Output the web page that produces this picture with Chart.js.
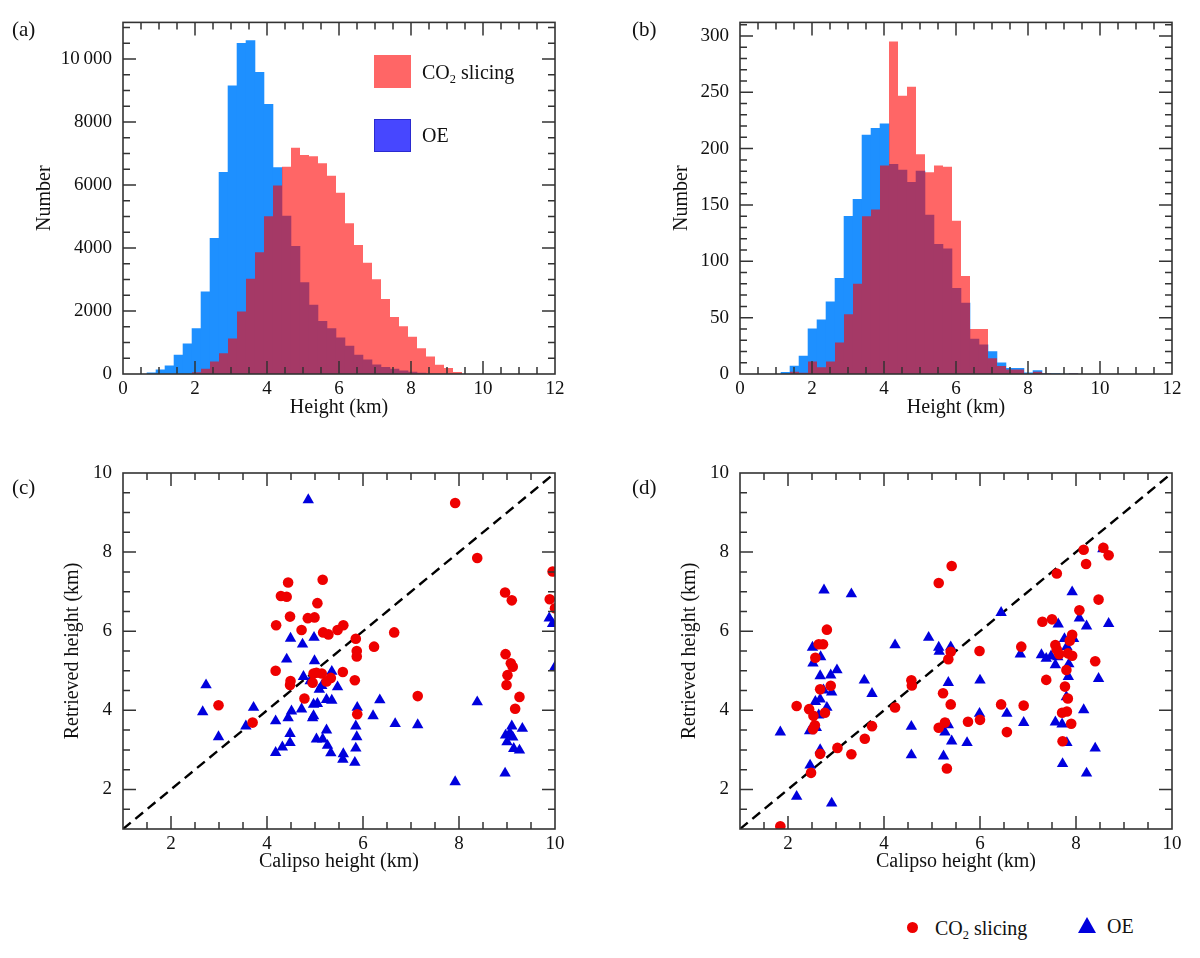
<!DOCTYPE html>
<html>
<head>
<meta charset="utf-8">
<script src="https://cdn.jsdelivr.net/npm/chart.js@4.4.1/dist/chart.umd.min.js"></script>
<style>
  body { margin: 0; background: #fff; }
  #fig { position: relative; width: 1200px; height: 958px; font-family: "Liberation Serif", serif; color: #111; }
  .panel { position: absolute; width: 600px; height: 440px; }
  .tag { position: absolute; font-size: 21px; line-height: 25px; }
  .lab { position: absolute; font-size: 20px; line-height: 24px; white-space: nowrap; }
  .swatch { position: absolute; width: 37px; height: 33px; box-sizing: border-box; }
  sub { font-size: 0.62em; vertical-align: -0.3em; line-height: 0; }
</style>
</head>
<body>
<div id="fig">
  <div class="panel" style="left:0;top:0"><canvas id="histA" width="600" height="440"></canvas></div>
  <div class="panel" style="left:600px;top:0"><canvas id="histB" width="600" height="440"></canvas></div>
  <div class="panel" style="left:0;top:450px"><canvas id="scatC" width="600" height="440"></canvas></div>
  <div class="panel" style="left:600px;top:450px"><canvas id="scatD" width="600" height="440"></canvas></div>

  <div class="tag" style="left:12px;top:17px">(a)</div>
  <div class="tag" style="left:632px;top:17px">(b)</div>
  <div class="tag" style="left:12px;top:475px">(c)</div>
  <div class="tag" style="left:632px;top:475px">(d)</div>

  <!-- legend of panel (a) -->
  <div class="swatch" style="left:374px;top:55px;background:rgba(255,0,0,0.6)"></div>
  <div class="lab" style="left:422px;top:60px">CO<sub>2</sub> slicing</div>
  <div class="swatch" style="left:374px;top:119px;background:rgba(0,0,255,0.72);border:1px solid #2a2ad0"></div>
  <div class="lab" style="left:422px;top:123px">OE</div>

  <!-- legend at the bottom -->
  <div style="position:absolute;left:907px;top:922px;width:11px;height:11px;border-radius:50%;background:#ee0000"></div>
  <div class="lab" style="left:935px;top:916px">CO<sub>2</sub> slicing</div>
  <div style="position:absolute;left:1078px;top:917px;width:18px;height:16px;background:#0000dd;clip-path:polygon(50% 0,100% 100%,0 100%)"></div>
  <div class="lab" style="left:1107px;top:914px">OE</div>
</div>
<script>
// (a) histogram, bin centres in km (bin width 0.25 km)
const binsA = [0.7917, 1.0417, 1.2917, 1.5417, 1.7917, 2.0417, 2.2917, 2.5417, 2.7917, 3.0417,
  3.2917, 3.5417, 3.7917, 4.0417, 4.2917, 4.5417, 4.7917, 5.0417, 5.2917, 5.5417,
  5.7917, 6.0417, 6.2917, 6.5417, 6.7917, 7.0417, 7.2917, 7.5417, 7.7917, 8.0417,
  8.2917, 8.5417, 8.7917, 9.0417, 9.2917];
const oeA = [40, 135, 260, 605, 960, 1440, 2610, 4310, 6400, 9145,
  10500, 10585, 9580, 8560, 6555, 5010, 4050, 2900, 2190, 1670,
  1440, 1150, 890, 605, 450, 290, 210, 155, 105, 65,
  30, 0, 0, 0, 0];
const co2A = [0, 0, 0, 0, 0, 52, 167, 397, 658, 1127,
  1983, 3027, 3862, 5010, 5981, 6576, 7182, 6952, 6910, 6691,
  6294, 5752, 4781, 4092, 3528, 3006, 2380, 1806, 1514, 1180,
  814, 553, 292, 188, 63];

// (b) histogram
const binsB = [1.2639, 1.5139, 1.7639, 2.0139, 2.2639, 2.5139, 2.7639, 3.0139, 3.2639, 3.5139,
  3.7639, 4.0139, 4.2639, 4.5139, 4.7639, 5.0139, 5.2639, 5.5139, 5.7639, 6.0139,
  6.2639, 6.5139, 6.7639, 7.0139, 7.2639, 7.5139, 7.7639, 8.0139, 8.2639, 8.5139,
  8.7639, 9.0139, 9.2639];
const oeB = [1.5, 7, 16, 40, 48, 64, 85, 140, 155, 212,
  218, 222, 186, 181, 170, 180, 141, 115, 111, 76,
  63, 31, 26, 20, 10, 5, 5, 1, 3, 0.5,
  0.5, 0, 0.5];
const co2B = [0, 2, 1, 11, 6, 11, 28, 53, 80, 140,
  146, 185, 295, 247, 255, 195, 179, 185, 184, 136,
  87, 40, 40, 14, 7, 4, 4, 0, 2, 0.5,
  0, 0, 0.5];

// (c) scatter: [calipso height, retrieved height]
const co2C = [[2.99,4.13],[3.70,3.69],[4.18,5.00],[4.19,6.15],[4.44,7.23],[4.29,6.89],[4.41,6.87],[4.48,6.37],
  [4.72,6.03],[4.85,6.33],[4.99,6.35],[5.05,6.71],[5.16,7.30],[5.17,5.97],[5.28,5.92],[5.47,6.03],
  [5.59,6.15],[4.49,4.74],[4.48,4.64],[4.78,4.30],[4.97,4.93],[5.03,4.95],[5.14,4.93],[4.95,4.70],
  [5.24,4.73],[5.33,4.82],[5.58,4.97],[5.83,4.76],[5.85,5.81],[5.87,5.50],[5.87,5.36],[5.88,3.90],
  [7.92,9.24],[8.38,7.85],[6.65,5.97],[6.23,5.61],[7.14,4.36],[8.96,6.98],[9.10,6.78],[8.97,5.42],
  [9.08,5.19],[9.12,5.10],[9.01,4.89],[8.99,4.64],[9.26,4.34],[9.17,4.04],[9.95,7.51],[9.89,6.81],
  [10.0,6.58]];
const oeC = [[4.86,9.32],[2.73,4.64],[2.66,3.96],[2.99,3.33],[3.56,3.60],[3.72,4.07],[4.18,2.93],[4.32,3.07],
  [4.48,3.18],[4.48,3.41],[4.18,3.73],[4.44,3.81],[4.51,3.98],[4.72,4.03],[4.97,4.15],[5.05,4.17],
  [4.97,3.86],[4.95,3.81],[4.41,5.29],[4.49,5.82],[4.74,5.67],[4.98,5.84],[4.99,5.25],[4.76,4.85],
  [4.90,4.74],[5.09,4.53],[5.14,4.62],[5.24,4.27],[5.35,4.25],[5.35,4.98],[5.47,4.59],[5.03,3.27],
  [5.16,3.27],[5.24,3.50],[5.26,3.11],[5.33,2.92],[5.58,2.76],[5.59,2.90],[5.83,2.68],[5.85,3.04],
  [5.87,3.33],[5.85,3.60],[5.88,4.07],[6.35,4.26],[6.21,3.86],[6.67,3.66],[7.14,3.63],[8.38,4.21],
  [7.92,2.19],[8.96,2.41],[8.97,3.37],[9.10,3.60],[9.06,3.43],[9.12,3.32],[9.00,3.20],[9.32,3.54],
  [9.14,3.03],[9.26,2.99],[9.88,6.33],[9.95,6.19],[10.0,5.10]];

// (d) scatter
const co2D = [[1.84,1.07],[2.18,4.11],[2.44,4.03],[2.48,2.42],[2.53,3.86],[2.56,3.62],[2.52,3.52],[2.67,2.90],
  [2.77,3.94],[2.67,4.53],[2.89,4.62],[2.57,5.33],[2.64,5.67],[2.73,5.67],[2.81,6.04],[3.03,3.05],
  [3.32,2.89],[3.60,3.28],[3.75,3.60],[4.23,4.07],[4.57,4.76],[4.58,4.63],[5.14,7.22],[5.41,7.65],
  [5.34,5.29],[5.39,5.48],[5.23,4.43],[5.39,4.15],[5.27,3.69],[5.14,3.56],[5.31,2.53],[5.99,5.50],
  [5.75,3.71],[6.00,3.76],[6.44,4.15],[6.56,3.45],[6.86,5.61],[6.91,4.12],[7.30,6.24],[7.50,6.30],
  [7.38,4.77],[7.60,7.46],[7.57,5.65],[7.60,5.54],[7.65,5.42],[7.92,5.91],[7.87,5.76],[7.83,5.44],
  [7.92,5.38],[7.80,5.02],[7.77,4.60],[7.83,4.30],[7.71,3.94],[7.81,3.97],[7.90,3.66],[7.72,3.22],
  [8.07,6.53],[8.16,8.06],[8.21,7.70],[8.40,5.24],[8.47,6.80],[8.57,8.11],[8.68,7.92]];
const oeD = [[1.84,3.45],[2.18,1.82],[2.46,2.61],[2.67,3.00],[2.45,3.48],[2.59,3.56],[2.57,4.22],[2.64,3.88],
  [2.67,4.28],[2.81,4.07],[2.74,4.51],[2.91,4.46],[2.67,4.87],[2.89,4.89],[3.02,5.02],[2.51,5.59],
  [2.52,5.19],[2.68,5.35],[2.75,7.04],[3.32,6.94],[2.91,1.65],[3.59,4.76],[3.75,4.42],[4.23,5.65],
  [4.57,3.59],[4.57,2.87],[4.93,5.84],[5.14,5.59],[5.15,5.49],[5.39,5.60],[5.24,2.84],[5.27,3.45],
  [5.34,3.63],[5.41,3.22],[5.34,4.70],[6.00,4.76],[5.99,3.92],[5.73,3.18],[6.44,6.47],[6.56,3.92],
  [6.91,3.69],[6.84,5.42],[7.28,5.40],[7.38,5.31],[7.48,5.37],[7.57,5.15],[7.62,5.35],[7.63,6.18],
  [7.76,5.81],[7.81,5.61],[7.95,5.81],[7.85,5.17],[7.84,4.85],[7.80,4.34],[7.57,3.70],[7.71,3.65],
  [7.81,3.18],[7.72,2.65],[7.92,6.99],[8.07,6.33],[8.22,6.13],[8.68,6.19],[8.47,4.80],[8.16,4.01],
  [8.40,3.04],[8.22,2.41],[8.56,8.08]];

const oneToOne = [[1, 1], [10, 10]];

// tick labels
const ticksHistX = [0, 2, 4, 6, 8, 10, 12];
const ticksHistA = [0, 2000, 4000, 6000, 8000, 10000];
const ticksHistB = [0, 50, 100, 150, 200, 250, 300];
const ticksScat = [2, 4, 6, 8, 10];

Chart.defaults.font.family = '"Liberation Serif", "DejaVu Serif", serif';
Chart.defaults.color = '#111';

const pts = arr => arr.map(p => ({x: p[0], y: p[1]}));
const bars = (xs, ys) => xs.map((x, i) => ({x: x, y: ys[i]}));
const fmt = v => v >= 10000 ? Math.floor(v / 1000) + '\u2009' + String(v % 1000).padStart(3, '0') : String(v);

// box with inward ticks on all four sides
const frameTicks = {
  id: 'frameTicks',
  afterDraw(chart, args, o) {
    const ctx = chart.ctx, a = chart.chartArea;
    const sx = chart.scales.x, sy = chart.scales.y;
    const near = (v, m) => Math.abs(v / m - Math.round(v / m)) < 1e-6;
    ctx.save();
    ctx.strokeStyle = '#333';
    ctx.lineWidth = 1.5;
    ctx.beginPath();
    for (let i = Math.ceil(sx.min / o.xMinor); i * o.xMinor <= sx.max + 1e-9; i++) {
      const v = i * o.xMinor, p = sx.getPixelForValue(v);
      if (p <= a.left + 1 || p >= a.right - 1) continue;
      const len = near(v, o.xMajor) ? 13 : 7;
      ctx.moveTo(p, a.bottom); ctx.lineTo(p, a.bottom - len);
      ctx.moveTo(p, a.top); ctx.lineTo(p, a.top + len);
    }
    for (let i = Math.ceil(sy.min / o.yMinor); i * o.yMinor <= sy.max + 1e-9; i++) {
      const v = i * o.yMinor, p = sy.getPixelForValue(v);
      if (p <= a.top + 1 || p >= a.bottom - 1) continue;
      const len = near(v, o.yMajor) ? 13 : 7;
      ctx.moveTo(a.left, p); ctx.lineTo(a.left + len, p);
      ctx.moveTo(a.right, p); ctx.lineTo(a.right - len, p);
    }
    ctx.stroke();
    ctx.lineWidth = 1.6;
    ctx.strokeRect(a.left, a.top, a.right - a.left, a.bottom - a.top);
    ctx.restore();
  }
};

function xAxis(title, min, max, ticks, h, titlePad) {
  return {
    type: 'linear', min: min, max: max, offset: false,
    grid: {display: false, drawTicks: false}, border: {display: false},
    ticks: {padding: 4, maxRotation: 0, autoSkip: false, font: {size: 19}, callback: fmt},
    afterBuildTicks: s => { s.ticks = ticks.map(v => ({value: v})); },
    title: {display: true, text: title, font: {size: 20}, padding: {top: 0, bottom: titlePad}},
    afterFit: s => { s.height = h; }
  };
}

function yAxis(title, min, max, ticks, w, titlePad) {
  return {
    type: 'linear', min: min, max: max,
    grid: {display: false, drawTicks: false}, border: {display: false},
    ticks: {padding: 11, autoSkip: false, font: {size: 19}, callback: fmt},
    afterBuildTicks: s => { s.ticks = ticks.map(v => ({value: v})); },
    title: {display: true, text: title, font: {size: 20}, padding: {top: titlePad, bottom: 0}},
    afterFit: s => { s.width = w; }
  };
}

const common = {
  responsive: false, animation: false, events: [],
  plugins: {legend: {display: false}, tooltip: {enabled: false}}
};

function histogram(id, bins, oe, co2, o) {
  new Chart(document.getElementById(id), {
    type: 'bar',
    data: {
      datasets: [
        {label: 'CO2 slicing', data: bars(bins, co2), backgroundColor: 'rgba(255,0,0,0.6)', order: 0,
          inflateAmount: 0, grouped: false, barPercentage: 1, categoryPercentage: 1, borderWidth: 0},
        {label: 'OE', data: bars(bins, oe), backgroundColor: '#1e90ff', order: 1,
          inflateAmount: 0.3, grouped: false, barPercentage: 1, categoryPercentage: 1, borderWidth: 0}
      ]
    },
    options: Object.assign({}, common, {
      layout: {padding: o.pad},
      scales: {
        x: xAxis('Height (km)', 0, 12, ticksHistX, o.xh, o.xtp),
        y: yAxis('Number', 0, o.ymax, o.yticks, o.yw, o.ytp)
      },
      plugins: Object.assign({}, common.plugins, {frameTicks: {xMinor: 0.5, xMajor: 2, yMinor: o.yminor, yMajor: o.ymajor}})
    }),
    plugins: [frameTicks]
  });
}

function scatter(id, co2, oe, o) {
  new Chart(document.getElementById(id), {
    type: 'scatter',
    data: {
      datasets: [
        {label: 'CO2 slicing', data: pts(co2), pointStyle: 'circle', pointRadius: 5.3,
          backgroundColor: '#ee0000', pointBackgroundColor: '#ee0000', borderWidth: 0, order: 0, clip: 0},
        {label: 'OE', data: pts(oe), pointStyle: 'triangle', pointRadius: 6.6,
          backgroundColor: '#0000dd', pointBackgroundColor: '#0000dd', borderWidth: 0, order: 1, clip: 0},
        {label: '1:1', type: 'line', data: pts(oneToOne), borderColor: '#000', borderWidth: 2.4,
          borderDash: [10, 6], pointRadius: 0, fill: false, order: 2, clip: 0}
      ]
    },
    options: Object.assign({}, common, {
      layout: {padding: o.pad},
      scales: {
        x: xAxis('Calipso height (km)', 1, 10, ticksScat, o.xh, o.xtp),
        y: yAxis('Retrieved height (km)', 1, 10, ticksScat, o.yw, o.ytp)
      },
      plugins: Object.assign({}, common.plugins, {frameTicks: {xMinor: 0.5, xMajor: 2, yMinor: 0.5, yMajor: 2}})
    }),
    plugins: [frameTicks]
  });
}

histogram('histA', binsA, oeA, co2A, {pad: {left: 0, top: 18, right: 45, bottom: 0}, yw: 123, xh: 66,
  ymax: 11160, yticks: ticksHistA, ymajor: 2000, yminor: 500, ytp: 33, xtp: 20});
histogram('histB', binsB, oeB, co2B, {pad: {left: 0, top: 18, right: 28, bottom: 0}, yw: 140, xh: 66,
  ymax: 312, yticks: ticksHistB, ymajor: 50, yminor: 10, ytp: 70, xtp: 20});
scatter('scatC', co2C, oeC, {pad: {left: 0, top: 23, right: 45, bottom: 0}, yw: 123, xh: 61, ytp: 61, xtp: 16});
scatter('scatD', co2D, oeD, {pad: {left: 0, top: 23, right: 28, bottom: 0}, yw: 140, xh: 61, ytp: 78, xtp: 16});
</script>
</body>
</html>
